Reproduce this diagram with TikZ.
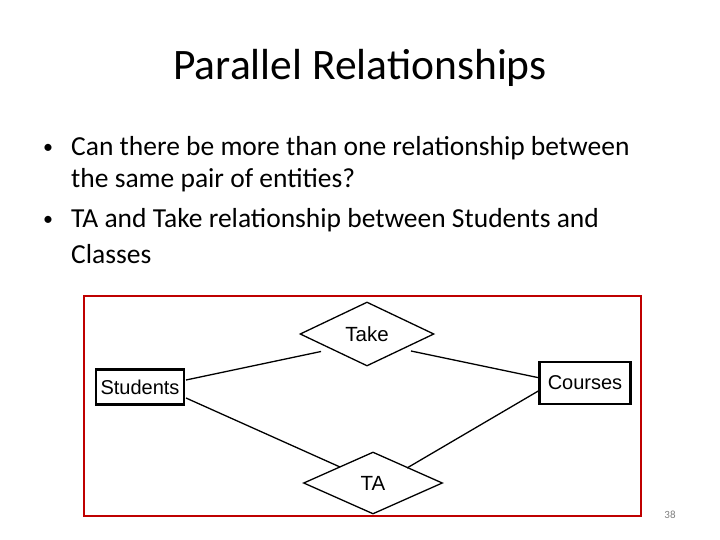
\documentclass[tikz,border=0pt]{standalone}
\usepackage{fontspec}
\setmainfont{Carlito}
\newfontfamily\arial{Liberation Sans}
\usetikzlibrary{shapes.geometric}
\begin{document}
\begin{tikzpicture}[x=1pt,y=-1pt,
  ent/.style={draw,line width=2.2pt,inner sep=0pt,font=\arial\fontsize{20}{22}\selectfont},
  rel/.style={draw,diamond,line width=1.3pt,font=\arial\fontsize{20.5}{22}\selectfont},
  ln/.style={line width=1.3pt},
  txt/.style={anchor=west,inner sep=0pt,font=\fontsize{27.5}{32}\selectfont},
  bul/.style={anchor=west,inner sep=0pt,font=\fontsize{20}{24}\selectfont}]
\useasboundingbox (0,0) rectangle (720,540);
\node[font=\fontsize{43.5}{50}\selectfont] (title) at (360,68) {Parallel Relationships};
\node[bul] (b1) at (43,149) {•};
\node[txt] (l1) at (71,148) {Can there be more than one relationship between};
\node[txt] (l2) at (71,180) {the same pair of entities?};
\node[bul] (b2) at (43,221) {•};
\node[txt] (l3) at (71,220) {TA and Take relationship between Students and};
\node[txt] (l4) at (71,254) {Classes};
\draw[red!75!black,line width=1.2pt] (84,296) rectangle (641,516);
\node[ent,minimum width=88pt,minimum height=35pt] (st) at (140,387) {Students};
\node[ent,minimum width=91pt,minimum height=42pt] (co) at (585,383) {Courses};
\node[rel,minimum width=134pt,minimum height=64pt,inner sep=0pt] (take) at (367,334) {Take};
\node[rel,minimum width=139pt,minimum height=62pt,inner sep=0pt] (ta) at (373,483) {TA};
\coordinate (t1) at (321,351.5);
\coordinate (t2) at (411,351);
\coordinate (a1) at (340,467);
\coordinate (a2) at (407,468);
\draw[ln] (186,380) -- (t1);
\draw[ln] (t2) -- (540,378);
\draw[ln] (186,398) -- (a1);
\draw[ln] (a2) -- (540,390);
\node[font=\fontsize{11}{12}\selectfont,text=gray] (pg) at (670,515) {38};
\end{tikzpicture}
\end{document}
